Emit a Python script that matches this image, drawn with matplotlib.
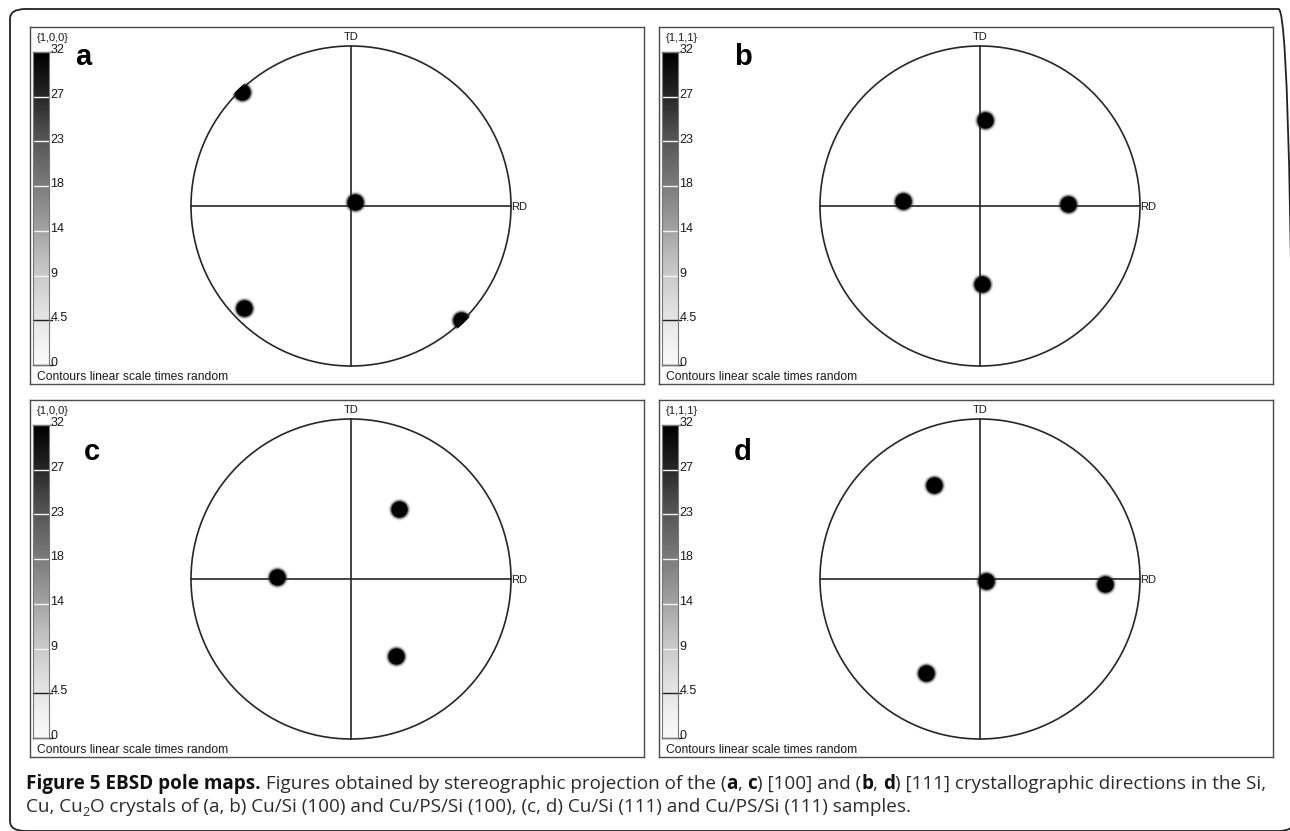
import numpy as np
import matplotlib
matplotlib.use("Agg")
import matplotlib.pyplot as plt
from matplotlib.patches import Circle, FancyBboxPatch

W, H = 1290, 831
DPI = 100

# panel annotations
panel_letters = ["a", "b", "c", "d"]
panel_planes = ["{1,0,0}", "{1,1,1}", "{1,0,0}", "{1,1,1}"]
cbar_labels = ["0", "4.5", "9", "14", "18", "23", "27", "32"]

# pole positions in the stereographic projection (unit circle, RD right, TD up)
poles_a_x = [-0.68, 0.025, -0.67, 0.69]
poles_a_y = [0.71, 0.025, -0.64, -0.71]
poles_b_x = [0.03, -0.48, 0.55, 0.01]
poles_b_y = [0.54, 0.03, 0.01, -0.49]
poles_c_x = [0.30, -0.46, 0.28]
poles_c_y = [0.44, 0.01, -0.48]
poles_d_x = [-0.29, 0.04, 0.78, -0.34]
poles_d_y = [0.59, -0.01, -0.03, -0.59]

poles_x = [poles_a_x, poles_b_x, poles_c_x, poles_d_x]
poles_y = [poles_a_y, poles_b_y, poles_c_y, poles_d_y]

caption_line1 = [("Figure 5 EBSD pole maps.", "bold"),
                 (" Figures obtained by stereographic projection of the (", "normal"),
                 ("a", "bold"), (", ", "normal"), ("c", "bold"),
                 (") [100] and (", "normal"), ("b", "bold"), (", ", "normal"),
                 ("d", "bold"),
                 (") [111] crystallographic directions in the Si,", "normal")]
caption_line2 = [("Cu, Cu", "normal"), ("2", "sub"),
                 ("O crystals of (a, b) Cu/Si (100) and Cu/PS/Si (100), "
                  "(c, d) Cu/Si (111) and Cu/PS/Si (111) samples.", "normal")]

fig = plt.figure(figsize=(W / DPI, H / DPI), dpi=DPI)
fig.patch.set_facecolor("white")


def px_axes(x0, y0, w, h, **kw):
    return fig.add_axes([x0 / W, 1 - (y0 + h) / H, w / W, h / H], **kw)


# outer rounded frame (right edge runs just off the picture)
frame = FancyBboxPatch((10 / W, 1 - 831 / H), 1284 / W, 822 / H,
                       boxstyle="round,pad=0,rounding_size=0.012",
                       transform=fig.transFigure, fill=False,
                       edgecolor="#222222", linewidth=1.3, clip_on=False)
fig.patches.append(frame)

panel_origin = [(30, 27), (659, 27), (30, 400), (659, 400)]
letter_pos = [(53, 30), (84, 30), (62, 52), (84, 52)]
PW, PH = 614, 357
R = 160.0
LIM = 1.09
small = dict(family=["Liberation Sans", "DejaVu Sans"], color="#1a1a1a")

for k in range(4):
    x0, y0 = panel_origin[k]
    ax = px_axes(x0, y0, PW, PH)
    ax.set_xlim(0, PW)
    ax.set_ylim(PH, 0)
    ax.set_xticks([])
    ax.set_yticks([])
    for s in ax.spines.values():
        s.set_color("#4a4a4a")
        s.set_linewidth(1.0)
    ax.text(7, 11, panel_planes[k], fontsize=8, va="center", ha="left", **small)
    ax.text(7, 350, "Contours linear scale times random", fontsize=8.7,
            va="center", ha="left", **small)
    lx, ly = letter_pos[k]
    ax.text(lx, ly, panel_letters[k], fontsize=21, fontweight="bold",
            family=["Liberation Sans", "DejaVu Sans"], va="center", ha="center")

    # colour scale
    cax = px_axes(x0 + 3, y0 + 25, 16, 313)
    grad = np.linspace(0, 1, 256).reshape(-1, 1)
    cax.imshow(grad, cmap="Greys", vmin=-0.05, vmax=1.0, origin="lower",
               extent=[0, 1, 0, 7], aspect="auto")
    cax.set_xlim(0, 1)
    cax.set_ylim(0, 7)
    cax.set_xticks([])
    cax.set_yticks([])
    for s in cax.spines.values():
        s.set_color("#777777")
        s.set_linewidth(0.8)
    for i, lab in enumerate(cbar_labels):
        if i == 7:
            col = "#888888"
        elif i >= 2:
            col = "#f4f4f4"
        else:
            col = "#222222"
        cax.plot([0, 1.18], [i, i], color=col, lw=1.0, clip_on=False)
        cax.text(1.08, i + 0.04, lab, fontsize=9, va="center", ha="left",
                 transform=cax.transData, clip_on=False, **small)

    # pole figure
    cx, cy = x0 + 321, y0 + 179
    side = 2 * R * LIM
    pax = px_axes(cx - side / 2, cy - side / 2, side, side)
    pax.set_xlim(-LIM, LIM)
    pax.set_ylim(-LIM, LIM)
    pax.set_aspect("equal")
    pax.axis("off")
    pax.add_patch(Circle((0, 0), 1.0, fill=False, edgecolor="#262626", lw=1.2))
    pax.plot([-1, 1], [0, 0], color="#262626", lw=1.2)
    pax.plot([0, 0], [-1, 1], color="#262626", lw=1.2)
    pax.text(0, 1.058, "TD", fontsize=8, ha="center", va="center", **small)
    pax.text(1.003, -0.005, "RD", fontsize=8, ha="left", va="center", **small)
    clip = Circle((0, 0), 1.015, transform=pax.transData)
    # soft-edged spots: a few translucent layers under a black core
    for size, alpha in [(250, 0.12), (205, 0.25), (172, 0.45)]:
        halo = pax.scatter(poles_x[k], poles_y[k], s=size, color="#222222",
                           alpha=alpha, linewidths=0, zorder=3)
        halo.set_clip_path(clip)
    core = pax.scatter(poles_x[k], poles_y[k], s=138, color="black",
                       linewidths=0, zorder=4)
    core.set_clip_path(clip)

# caption, written run by run so bold and subscript parts line up
renderer = fig.canvas.get_renderer()
cap_family = ["Open Sans", "DejaVu Sans"]


def run_width(txt, weight, size):
    # measure with guard characters so leading/trailing spaces count
    t1 = fig.text(0, 0, "|" + txt + "|", fontsize=size, fontweight=weight, family=cap_family)
    t2 = fig.text(0, 0, "||", fontsize=size, fontweight=weight, family=cap_family)
    w = t1.get_window_extent(renderer).width - t2.get_window_extent(renderer).width
    t1.remove()
    t2.remove()
    return w


def put_runs(runs, x_px, base_px, size):
    x = x_px
    for txt, kind in runs:
        weight = "bold" if kind == "bold" else "normal"
        fs = size * 0.68 if kind == "sub" else size
        dy = -3.5 if kind == "sub" else 0
        fig.text(x / W, 1 - (base_px - dy) / H, txt, fontsize=fs, fontweight=weight,
                 family=cap_family, color="#2b2b2b" if kind != "bold" else "#111111",
                 va="baseline", ha="left")
        x += run_width(txt, weight, fs)
    return x


cap_size = 11.0
total = sum(run_width(t, "bold" if k == "bold" else "normal", cap_size) for t, k in caption_line1)
cap_size = cap_size * (1265 - 26) / total
put_runs(caption_line1, 26, 789, cap_size)
put_runs(caption_line2, 26, 812, cap_size)

fig.savefig("out.png", dpi=DPI, facecolor="white")
